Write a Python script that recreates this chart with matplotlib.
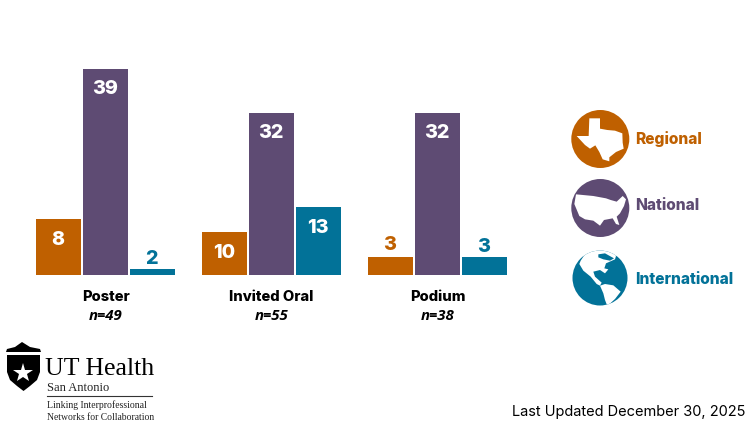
"""Presentations by type and reach, with icon legend and logo."""
import matplotlib

matplotlib.use("Agg")
import matplotlib.pyplot as plt
from matplotlib.patches import Circle, Polygon

categories = ["Poster", "Invited Oral", "Podium"]
n_labels = ["n=49", "n=55", "n=38"]
series_names = ["Regional", "National", "International"]

# Printed labels.
regional = [8, 10, 3]
national = [39, 32, 32]
international = [2, 13, 3]

# Drawn bar heights; they do not follow the labels exactly.
regional_drawn = [10.6, 8.14, 3.41]
national_drawn = [39, 30.67, 30.67]
international_drawn = [1.14, 12.87, 3.41]

ORANGE = "#BF6000"
PURPLE = "#5E4B73"
TEAL = "#027298"
FONT = "Inter"

W, H = 751, 422

plt.rcParams["font.family"] = [FONT, "DejaVu Sans"]
fig = plt.figure(figsize=(W / 100, H / 100), dpi=100)

# Chart axes, placed so that one group step is 166 px.
ax = fig.add_axes([36 / W, (H - 275) / H, 471 / W, 206 / H])
step = 47 / 166
width = 45 / 166
ax.set_xlim(-69.5 / 166, 2 + 69.5 / 166)
ax.set_ylim(0, 39)
ax.patch.set_alpha(0)
for side in ax.spines.values():
    side.set_visible(False)
ax.set_yticks([])
ax.set_xticks(range(3))
ax.set_xticklabels(categories, fontsize=10.6, fontweight="heavy", color="black")
ax.tick_params(axis="x", length=0, pad=11)

rows = [
    (regional, regional_drawn, ORANGE, -1),
    (national, national_drawn, PURPLE, 0),
    (international, international_drawn, TEAL, 1),
]
for labels, drawn, color, slot in rows:
    for i, (label, height) in enumerate(zip(labels, drawn)):
        ax.bar(i + slot * step, height, width, color=color)
        # Short bars carry the number above them.
        if height > 5:
            offset, text_color = -20.5, "white"
        else:
            offset, text_color = (12 if height > 3 and slot < 0 else 9.5), color
        ax.annotate(
            str(label),
            (i + slot * step, height),
            xytext=(-0.5, offset * 0.72),
            textcoords="offset points",
            ha="center",
            va="center",
            fontsize=14.2,
            fontweight="heavy",
            color=text_color,
            annotation_clip=False,
        )

# Overlay in pixel coordinates for legend icons, logo and notes.
over = fig.add_axes([0, 0, 1, 1])
over.set_xlim(0, W)
over.set_ylim(H, 0)
over.axis("off")

for i, label in enumerate(n_labels):
    over.text(
        105.5 + 166 * i, 316, label, ha="center", va="center", fontsize=10.8,
        fontweight="bold", fontstyle="italic", family=["Open Sans", "DejaVu Sans"],
    )


def zoom_xy(points):
    """Convert outline points traced on the 3x legend crop to pixels."""
    return [(550 + x / 3, 100 + y / 3) for x, y in points]


# Regional icon.
over.add_patch(Circle((600.3, 139), 29, color=ORANGE, lw=0))
texas = [
    (118, 55), (150, 55), (150, 86), (172, 90), (195, 92), (217, 100), (218, 128),
    (221, 146), (198, 156), (178, 172), (178, 184), (158, 178), (148, 156), (136, 136),
    (120, 146), (105, 135), (80, 108), (116, 108),
]
over.add_patch(Polygon(zoom_xy(texas), color="white", lw=0))

# National icon.
over.add_patch(Circle((600.3, 208), 29, color=PURPLE, lw=0))
usa = [
    (78, 283), (130, 288), (168, 295), (182, 300), (200, 305), (218, 288), (228, 298),
    (222, 318), (210, 340), (200, 350), (208, 375), (198, 372), (188, 355), (162, 360),
    (150, 377), (130, 362), (105, 358), (88, 348), (73, 312),
]
over.add_patch(Polygon(zoom_xy(usa), color="white", lw=0))

# International icon: teal globe with white land clipped to it.
globe = Circle((600, 278), 27.5, color=TEAL, lw=0)
over.add_patch(globe)
north_america = [
    (120, 440), (92, 482), (88, 492), (100, 512), (122, 530), (140, 552), (150, 557),
    (155, 548), (135, 530), (130, 515), (150, 510), (165, 520), (175, 508), (163, 505),
    (168, 490), (195, 478), (205, 445),
]
south_america = [
    (150, 557), (165, 552), (190, 556), (212, 575), (195, 597), (172, 618), (165, 600),
    (160, 580),
]
hudson = [(145, 463), (165, 460), (192, 475), (180, 482), (160, 478), (145, 472)]
for outline in (north_america, south_america):
    shape = Polygon(zoom_xy(outline), color="white", lw=0)
    over.add_patch(shape)
    shape.set_clip_path(globe)
over.add_patch(Polygon(zoom_xy(hudson), color=TEAL, lw=0))

for name, color, y in zip(series_names, [ORANGE, PURPLE, TEAL], [139, 206, 279]):
    over.text(635, y, name, ha="left", va="center", fontsize=11.2, fontweight="heavy", color=color)

# Logo: shield, star and serif wordmark.
crown = [(22, 342), (30, 347), (40, 349), (41, 352), (6, 352), (7, 349), (15, 347)]
shield = [
    (7, 355), (40, 355), (40, 372), (37, 380), (30, 386), (23.5, 391), (17, 386),
    (10, 380), (7, 372),
]
over.add_patch(Polygon(crown, color="black", lw=0))
over.add_patch(Polygon(shield, color="black", lw=0))
over.plot([22.7], [372.5], marker="*", markersize=15, color="white", mew=0)

serif = ["Liberation Serif", "DejaVu Serif"]
over.text(45, 375, "UT Health", fontsize=18.5, family=serif, va="baseline", color="black")
over.text(47, 391, "San Antonio", fontsize=9, family=serif, va="baseline", color="#222222")
over.plot([47, 152], [396, 396], color="#333333", lw=0.8)
over.text(47, 408, "Linking Interprofessional", fontsize=7, family=serif, va="baseline", color="#222222")
over.text(47, 420, "Networks for Collaboration", fontsize=6.9, family=serif, va="baseline", color="#222222")

over.text(745, 412, "Last Updated December 30, 2025", ha="right", va="center", fontsize=10.5, color="black")

fig.savefig("out.png", dpi=100)
